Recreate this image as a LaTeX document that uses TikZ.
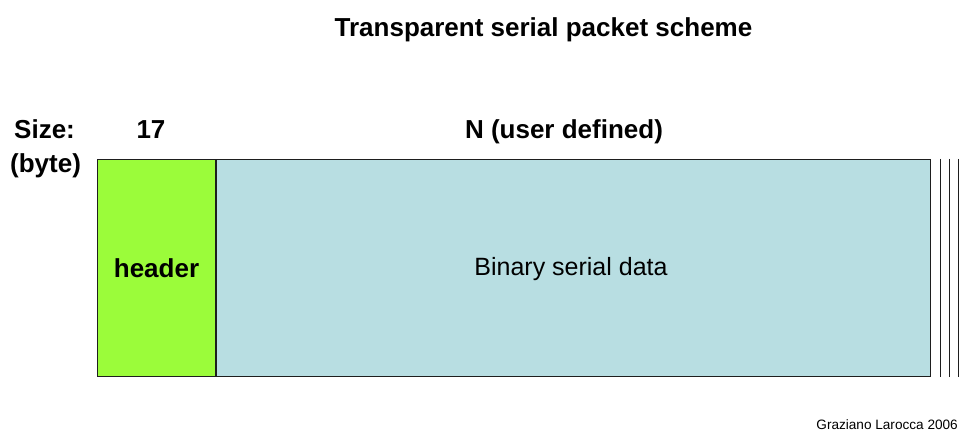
\documentclass[tikz,border=0pt]{standalone}
\usepackage{fontspec}
\setmainfont{Liberation Sans}
\definecolor{hdrgreen}{RGB}{155,252,58}
\definecolor{databg}{RGB}{184,222,226}
\definecolor{edge}{RGB}{30,30,30}
\begin{document}
\begin{tikzpicture}[x=1pt,y=-1pt,
  field/.style={draw=edge, line width=1.1pt, inner sep=0pt, anchor=north west},
  bigbold/.style={font=\fontsize{26}{30}\selectfont\bfseries, inner sep=0pt, anchor=base},
  plain/.style={font=\fontsize{25}{30}\selectfont, inner sep=0pt, anchor=base},
  breakline/.style={draw=edge, line width=1.2pt}]
  \useasboundingbox[fill=white] (0,0) rectangle (962,441);

  % title
  \node[bigbold] (title) at (543.5,37) {Transparent serial packet scheme};

  % size row
  \node[bigbold, anchor=base west] (sizelbl) at (14,139) {Size:};
  \node[bigbold, anchor=base west] (unitlbl) at (10,173) {(byte)};
  \node[bigbold] (hdrsize) at (151,139) {17};
  \node[bigbold] (datasize) at (564,139) {N (user defined)};

  % packet fields
  \node[field, fill=hdrgreen, minimum width=118pt, minimum height=217pt] (hdr) at (97,159) {};
  \node[field, fill=databg, minimum width=714pt, minimum height=217pt] (data) at (hdr.north east) {};

  \node[bigbold] (hdrtext) at (156.5,277) {header};
  \node[plain] (datatext) at (571,275) {Binary serial data};

  % continuation marks
  \foreach \dx in {9,18,27}
    \draw[breakline] ([xshift=\dx pt]data.north east) -- ([xshift=\dx pt]data.south east);

  % credit
  \node[font=\fontsize{13.6}{16}\selectfont, inner sep=0pt, anchor=base east] (credit) at (958,429) {Graziano Larocca 2006};
\end{tikzpicture}
\end{document}
